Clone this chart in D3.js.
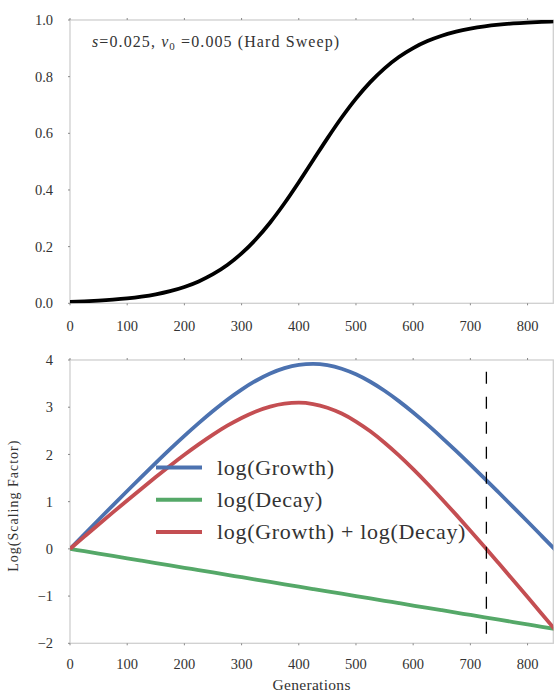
<!DOCTYPE html>
<html>
<head>
<meta charset="utf-8">
<script src="https://cdn.jsdelivr.net/npm/d3@7"></script>
<style>
  html, body { margin: 0; padding: 0; background: #fff; }
  svg { display: block; }
  text { font-family: "Liberation Serif", "DejaVu Serif", serif; fill: #333; }
</style>
</head>
<body>
<svg id="chart" width="554" height="692"></svg>
<script>
// Generations sampled every 25 steps
const generations = [0,25,50,75,100,125,150,175,200,225,250,275,300,325,350,375,400,425,
  450,475,500,525,550,575,600,625,650,675,700,725,750,775,800,825,850];

// Allele frequency through the sweep
const frequency = [0.005,0.0068,0.0093,0.0127,0.0172,0.0234,0.0317,0.0429,0.0577,0.0772,
  0.1027,0.1352,0.1761,0.2261,0.2854,0.3531,0.4273,0.5049,0.5823,0.6558,0.7225,0.7807,
  0.8295,0.8693,0.9009,0.9255,0.9444,0.9587,0.9694,0.9775,0.9834,0.9878,0.9910,0.9934,0.9952];

// Log scaling factors
const logGrowth = [0,0.309,0.617,0.922,1.225,1.525,1.821,2.111,2.392,2.662,2.919,3.158,3.373,
  3.561,3.714,3.827,3.896,3.918,3.890,3.816,3.697,3.539,3.348,3.129,2.888,2.630,2.357,2.075,
  1.785,1.489,1.188,0.885,0.579,0.271,-0.038];
const logDecay = [0,-0.05,-0.10,-0.15,-0.20,-0.25,-0.30,-0.35,-0.40,-0.45,-0.50,-0.55,-0.60,
  -0.65,-0.70,-0.75,-0.80,-0.85,-0.90,-0.95,-1.00,-1.05,-1.10,-1.15,-1.20,-1.25,-1.30,-1.35,
  -1.40,-1.45,-1.50,-1.55,-1.60,-1.65,-1.70];
const logCombined = [0,0.259,0.517,0.772,1.025,1.275,1.521,1.761,1.992,2.212,2.419,2.608,2.773,
  2.911,3.014,3.077,3.096,3.068,2.990,2.866,2.697,2.489,2.248,1.979,1.688,1.380,1.057,0.725,
  0.385,0.039,-0.312,-0.665,-1.021,-1.379,-1.738];

// Generation where the combined factor returns to zero
const crossoverGeneration = [728];

const xTicks = [0,100,200,300,400,500,600,700,800];
const freqTicks = [0.0,0.2,0.4,0.6,0.8,1.0];
const logTicks = [-2,-1,0,1,2,3,4];

const seriesNames = ["log(Growth)", "log(Decay)", "log(Growth) + log(Decay)"];
const seriesColors = ["#4c72b0", "#55a868", "#c44e52"];
const seriesValues = [logGrowth, logDecay, logCombined];

const annotation = "(Hard Sweep)";

const svg = d3.select("#chart");
const left = 70, right = 553.3;

function frame(g, x, y, id) {
  const [x0, x1] = x.range();
  const [y0, y1] = y.range();
  g.append("clipPath").attr("id", id)
    .append("rect").attr("x", x0).attr("y", y1).attr("width", x1 - x0).attr("height", y0 - y1);
  g.append("rect")
    .attr("x", x0).attr("y", y1).attr("width", x1 - x0).attr("height", y0 - y1)
    .attr("fill", "none").attr("stroke", "#cfcfcf").attr("stroke-width", 1.3);
  const tickStyle = s => s.attr("stroke", "#888").attr("stroke-width", 1);
  // small outward ticks on the top and bottom edges
  g.selectAll(null).data(xTicks).join("line")
    .attr("x1", d => x(d)).attr("x2", d => x(d)).attr("y1", y0).attr("y2", y0 + 2).call(tickStyle);
  g.selectAll(null).data(xTicks).join("line")
    .attr("x1", d => x(d)).attr("x2", d => x(d)).attr("y1", y1).attr("y2", y1 - 2).call(tickStyle);
}

function xLabels(g, x, baseline) {
  g.selectAll(null).data(xTicks).join("text")
    .attr("x", d => x(d)).attr("y", baseline)
    .attr("text-anchor", "middle").attr("font-size", 14.5)
    .text(d => d);
}

function yLabels(g, y, ticks, fmt) {
  const x0 = left;
  g.selectAll(null).data(ticks).join("line")
    .attr("x1", x0 - 2).attr("x2", x0).attr("y1", d => y(d)).attr("y2", d => y(d))
    .attr("stroke", "#888");
  g.selectAll(null).data(ticks).join("text")
    .attr("x", 53).attr("y", d => y(d)).attr("dy", "0.35em")
    .attr("text-anchor", "end").attr("font-size", 14.5)
    .text(fmt);
}

// ---------- Upper panel: frequency trajectory ----------
const xTop = d3.scaleLinear().domain([0, 845]).range([left, right]);
const yTop = d3.scaleLinear().domain([0, 1]).range([303.3, 20]);
const gTop = svg.append("g");
frame(gTop, xTop, yTop, "clipTop");
xLabels(gTop, xTop, 331);
yLabels(gTop, yTop, freqTicks, d3.format(".1f"));

gTop.append("path")
  .datum(generations.map((g, i) => [g, frequency[i]]))
  .attr("clip-path", "url(#clipTop)")
  .attr("fill", "none").attr("stroke", "#000").attr("stroke-width", 3.8)
  .attr("d", d3.line().x(d => xTop(d[0])).y(d => yTop(d[1])).curve(d3.curveMonotoneX));

const ann = gTop.append("text").attr("x", 92).attr("y", 47)
  .attr("font-size", 16).attr("letter-spacing", 1.1);
ann.append("tspan").attr("font-style", "italic").text("s");
ann.append("tspan").text("=0.025, ");
ann.append("tspan").attr("font-style", "italic").text("\u03bd");
ann.append("tspan").attr("font-size", 11).attr("dy", 3).text("0");
ann.append("tspan").attr("dy", -3).text(" =0.005 " + annotation);

// ---------- Lower panel: log scaling factors ----------
const xBot = d3.scaleLinear().domain([0, 845]).range([left, right]);
const yBot = d3.scaleLinear().domain([-2, 4]).range([643.3, 360]);
const gBot = svg.append("g");
frame(gBot, xBot, yBot, "clipBot");
xLabels(gBot, xBot, 669);
yLabels(gBot, yBot, logTicks, d => d < 0 ? "\u2212" + Math.abs(d) : d);

const line = d3.line().x(d => xBot(d[0])).y(d => yBot(d[1])).curve(d3.curveMonotoneX);
seriesValues.forEach((vals, i) => {
  gBot.append("path")
    .datum(generations.map((g, j) => [g, vals[j]]))
    .attr("clip-path", "url(#clipBot)")
    .attr("fill", "none").attr("stroke", seriesColors[i]).attr("stroke-width", 3.8)
    .attr("d", line);
});

gBot.selectAll(null).data(crossoverGeneration).join("line")
  .attr("x1", d => xBot(d)).attr("x2", d => xBot(d))
  .attr("y1", yBot(3.75)).attr("y2", yBot(-2))
  .attr("stroke", "#000").attr("stroke-width", 1.3).attr("stroke-dasharray", "12,13");

// legend
const legend = gBot.append("g");
seriesNames.forEach((name, i) => {
  const cy = 467.5 + i * 32.2;
  legend.append("line").attr("x1", 156).attr("x2", 202).attr("y1", cy).attr("y2", cy)
    .attr("stroke", seriesColors[i]).attr("stroke-width", 4);
  legend.append("text").attr("x", 217).attr("y", cy).attr("dy", "0.33em")
    .attr("font-size", 22).attr("letter-spacing", 0.7).text(name);
});

svg.append("text").attr("x", (left + right) / 2).attr("y", 690)
  .attr("text-anchor", "middle").attr("font-size", 15.5).attr("letter-spacing", 0.3)
  .text("Generations");

svg.append("text")
  .attr("transform", `translate(18,${(360 + 643.3) / 2 + 4}) rotate(-90)`)
  .attr("text-anchor", "middle").attr("font-size", 14).attr("letter-spacing", 1.0)
  .text("Log(Scaling Factor)");
</script>
</body>
</html>
